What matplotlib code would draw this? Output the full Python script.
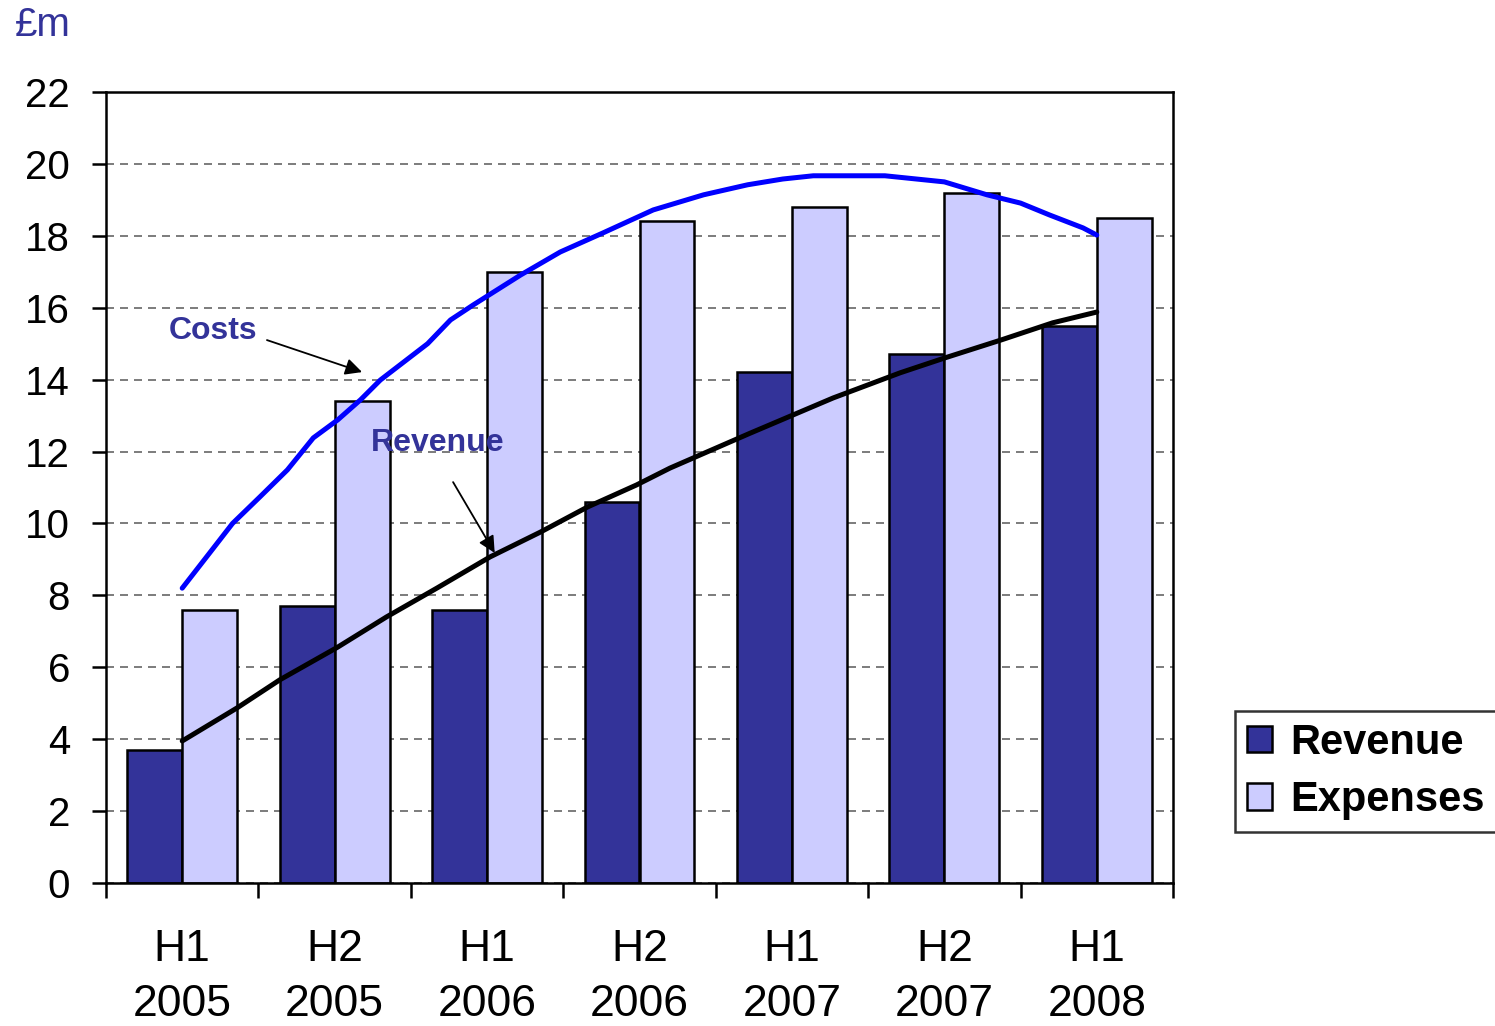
import matplotlib.pyplot as plt
import numpy as np

plt.rcParams['font.family'] = ['Liberation Sans', 'DejaVu Sans']

periods = ['H1\n2005', 'H2\n2005', 'H1\n2006', 'H2\n2006', 'H1\n2007', 'H2\n2007', 'H1\n2008']
revenue = [3.7, 7.7, 7.6, 10.6, 14.2, 14.7, 15.5]
expenses = [7.6, 13.4, 17.0, 18.4, 18.8, 19.2, 18.5]

# trend curves (x in category units)
costs_x = [0, 0.18, 0.33, 0.51, 0.69, 0.86, 1.02, 1.17, 1.30, 1.61, 1.76, 1.91, 2.22, 2.48,
           2.76, 3.09, 3.42, 3.71, 3.94, 4.14, 4.61, 5.0, 5.28, 5.50, 5.69, 5.91, 6.0]
costs_y = [8.2, 9.18, 10.0, 10.74, 11.49, 12.38, 12.88, 13.44, 13.99, 15.0, 15.66, 16.08, 16.91, 17.55,
           18.08, 18.72, 19.14, 19.42, 19.58, 19.67, 19.67, 19.5, 19.14, 18.91, 18.58, 18.22, 18.02]
rev_trend_x = [0, 0.36, 0.64, 1.02, 1.34, 1.67, 2.02, 2.35, 2.66, 2.98, 3.2, 3.72, 4.27, 4.71,
               5.0, 5.37, 5.71, 6.0]
rev_trend_y = [3.95, 4.87, 5.65, 6.56, 7.4, 8.2, 9.07, 9.76, 10.46, 11.07, 11.54, 12.5, 13.49, 14.19,
               14.6, 15.1, 15.58, 15.88]

dark = '#333399'
light = '#CCCCFF'

fig = plt.figure(figsize=(14.95, 10.26), dpi=100)
ax = fig.add_axes([106/1495, 143/1026, 1067/1495, 791/1026])

x = np.arange(len(periods))
w = 0.36
ax.bar(x - w/2, revenue, w, color=dark, edgecolor='black', linewidth=1.8, label='Revenue', zorder=2)
ax.bar(x + w/2, expenses, w, color=light, edgecolor='black', linewidth=1.8, label='Expenses', zorder=2)

ax.plot(costs_x, costs_y, color='#0000FF', linewidth=3.6, zorder=3, solid_capstyle='round')
ax.plot(rev_trend_x, rev_trend_y, color='black', linewidth=3.6, zorder=3, solid_capstyle='round')

ax.set_xlim(-0.5, 6.5)
ax.set_ylim(0, 22)
ax.set_yticks(range(0, 23, 2))
ax.yaxis.grid(True, linestyle=(0, (4.8, 3.6)), color='#666666', linewidth=1.2, zorder=0)
ax.set_axisbelow(True)

ax.set_xticks(np.arange(-0.5, 7, 1))
ax.set_xticklabels([])
ax.set_xticks(x, minor=True)
ax.set_xticklabels(periods, minor=True, fontsize=32, linespacing=1.45)
ax.tick_params(axis='x', which='major', length=11, width=1.8, direction='out')
ax.tick_params(axis='x', which='minor', length=0, pad=33)
ax.tick_params(axis='y', length=10, width=1.8, labelsize=29, pad=16)
for s in ax.spines.values():
    s.set_linewidth(1.8)

ax.text(0.2, 15.35, 'Costs', fontsize=23, fontweight='bold', color=dark, ha='center', va='center')
ax.annotate('', xy=(1.18, 14.21), xytext=(0.556, 15.1),
            arrowprops=dict(arrowstyle='-|>', color='black', lw=1.3, mutation_scale=25,
                            shrinkA=0, shrinkB=0))
ax.text(1.673, 12.24, 'Revenue', fontsize=23, fontweight='bold', color=dark, ha='center', va='center')
ax.annotate('', xy=(2.05, 9.18), xytext=(1.777, 11.15),
            arrowprops=dict(arrowstyle='-|>', color='black', lw=1.3, mutation_scale=25,
                            shrinkA=0, shrinkB=0))

fig.text(15/1495, 1 - 25/1026, '£m', fontsize=29, color=dark, ha='left', va='center')

leg = fig.legend(loc='upper left', bbox_to_anchor=(1235/1495, 1 - 711/1026),
                 prop={'weight': 'bold', 'size': 30}, frameon=True, fancybox=False,
                 edgecolor='black', handlelength=0.6, handleheight=0.6, handletextpad=0.45,
                 borderpad=0.28, labelspacing=0.42, borderaxespad=0)
leg.get_frame().set_linewidth(1.8)

fig.savefig('out.png', dpi=100)
